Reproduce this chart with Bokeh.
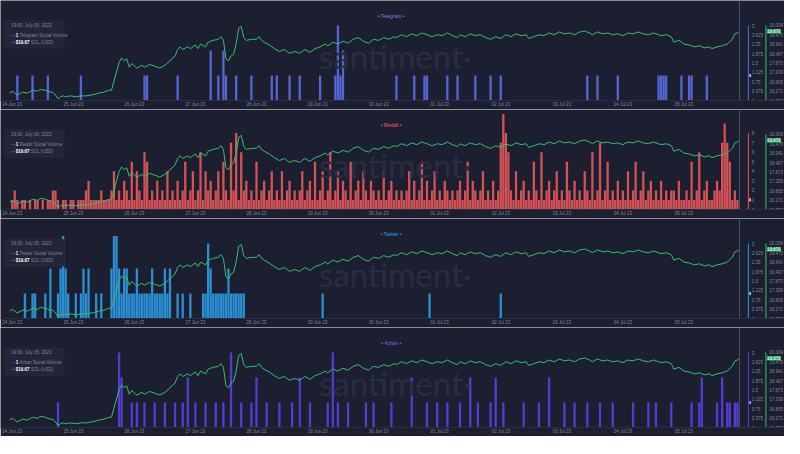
from bokeh.plotting import figure
from bokeh.layouts import column
from bokeh.models import Range1d, FixedTicker, Label, BoxAnnotation, Span
from bokeh.embed import file_html
from bokeh.resources import INLINE

BG = "#1c1f2f"
AXIS_TXT = "#80859c"
PRICE_COLOR = "#35c06f"

# ---- x axis (hours since 24 Jun 2023 00:00) ----
day_ticks = [0, 24, 48, 72, 96, 120, 144, 168, 192, 216, 240, 264]
day_labels = ["24 Jun 23", "25 Jun 23", "26 Jun 23", "27 Jun 23", "28 Jun 23", "29 Jun 23",
              "30 Jun 23", "01 Jul 23", "02 Jul 23", "03 Jul 23", "04 Jul 23", "05 Jul 23"]

# ---- SOL price (USD) ----
price_hours = [-1, 0, 2, 4, 6, 8, 10, 11, 13, 15, 16, 17, 18, 19, 20, 21, 23, 25, 27, 29, 31, 33, 34, 36, 38,
               39, 40, 41, 42, 43, 44, 45, 46, 47, 49, 51, 52, 54, 56, 58, 60, 62, 64, 65, 66, 67, 69, 70, 72,
               73, 74, 76, 77, 79, 81, 82, 83, 84, 85, 86, 87, 88, 89, 90, 91, 92, 94, 96, 97, 98, 99,
               101, 103, 105, 107, 109, 111, 113, 115, 117, 119, 121, 123, 124, 126, 128, 130, 132, 134, 136,
               138, 140, 142, 144, 146, 148, 150, 151, 153, 155, 157, 159, 161, 163, 165, 167, 169, 171, 173,
               175, 176, 178, 180, 182, 184, 186, 188, 190, 192, 194, 196, 198, 200, 202, 203, 205, 207, 209,
               211, 213, 215, 217, 219, 221, 223, 225, 227, 228, 230, 232, 234, 236, 238, 240, 242, 244, 246,
               248, 250, 252, 254, 255, 257, 259,
               260, 262, 264, 266, 268, 270, 272, 274, 275, 277, 279, 281, 283, 284, 285, 286]
price_vals = [16.16, 16.26, 16.05, 16.21, 16.16, 16.32, 16.26, 16.37, 16.32, 16.21,
              16.21, 16.05, 15.84, 15.95, 16.00, 15.95, 16.00, 15.95, 16.00, 16.00,
              16.05, 16.11, 16.16, 16.21, 16.32, 16.32, 16.84, 17.37, 17.90, 18.16,
              18.00, 18.11, 17.63, 17.84, 17.58, 17.74, 17.63, 17.79, 17.69, 17.58,
              17.74, 18.00, 18.27, 18.64, 18.79, 18.64, 18.79, 18.69, 18.90, 18.69,
              18.95, 18.79, 19.06, 19.16, 19.22, 19.37, 19.16, 18.11, 18.00, 18.27,
              18.37, 18.95, 19.85, 19.95, 19.32, 19.16, 19.22, 19.22, 19.37, 19.16,
              19.06,
              18.90, 18.69, 18.53, 18.64, 18.42, 18.53, 18.42, 18.64, 18.48, 18.69,
              18.79, 18.95, 18.85, 19.06, 18.95, 19.11, 19.00, 19.22, 19.32, 19.11,
              19.00, 19.22, 19.16, 19.32, 19.22, 19.37, 19.32, 19.48, 19.37, 19.53,
              19.43, 19.58, 19.48, 19.37, 19.48, 19.43, 19.58, 19.43, 19.32, 19.48,
              19.37, 19.53, 19.43, 19.48, 19.32, 19.22, 19.37, 19.27, 19.48, 19.37,
              19.53, 19.43, 19.48, 19.27, 19.37, 19.48, 19.43, 19.58, 19.48, 19.64,
              19.53, 19.58, 19.48, 19.64, 19.69, 19.58, 19.48, 19.64, 19.53, 19.58,
              19.48, 19.53, 19.43, 19.58, 19.53, 19.64, 19.53, 19.48, 19.58, 19.48,
              19.43, 19.48, 19.37,
              19.06, 19.16, 18.95, 18.90, 18.79, 18.85, 18.74, 18.79, 18.69, 18.79,
              18.85, 18.95, 19.22, 19.53, 19.58, 19.69]

price_ticks = [15.737, 16.271, 16.805, 17.339, 17.873, 18.407, 18.941, 19.475, 20.009]
price_labels = ["15.737", "16.271", "16.805", "17.339", "17.873", "18.407", "18.941", "19.475", "20.009"]

# ---- social volume (hourly) ----
tg_hours = [2, 8, 14, 27, 52, 53, 65, 78, 81, 83, 84, 88, 94, 102, 104, 109, 113, 121, 127, 128, 129, 130,
            151, 158, 162, 163, 171, 175, 182, 188, 192, 226, 230, 238, 254, 255, 256, 257, 263, 266, 267, 273]
tg_vals = [1, 1, 1, 1, 1, 1, 1, 2, 1, 2, 1, 1, 1, 1, 1, 1, 1, 1, 1, 3, 1, 2,
           1, 1, 1, 1, 1, 1, 1, 1, 1, 1, 1, 1, 1, 1, 1, 1, 1, 1, 1, 1]

# Reddit: one value per hour, hour 0 .. 285
rd_vals = [1, 2, 1, 0, 1, 1, 0, 1, 0, 1, 1, 0, 1, 0, 1, 1, 2, 2, 1, 0, 1, 1, 0, 1,
           1, 0, 1, 1, 1, 2, 3, 1, 1, 1, 1, 2, 1, 1, 1, 2, 4, 1, 2, 1, 3, 2, 1, 5,
           1, 4, 2, 1, 6, 5, 1, 2, 1, 3, 1, 2, 1, 4, 1, 2, 1, 3, 1, 2, 5, 1, 2, 4,
           1, 2, 6, 1, 4, 2, 3, 1, 2, 4, 1, 5, 2, 1, 7, 2, 8, 1, 6, 2, 3, 1, 2, 1,
           5, 1, 2, 3, 1, 2, 4, 1, 2, 1, 4, 1, 2, 3, 1, 2, 1, 2, 4, 1, 2, 3, 1, 5,
           1, 2, 4, 1, 2, 6, 1, 2, 4, 1, 3, 2, 1, 5, 1, 2, 3, 1, 4, 2, 1, 3, 2, 1,
           2, 1, 4, 1, 2, 3, 1, 2, 1, 2, 1, 2, 4, 1, 3, 1, 2, 5, 1, 3, 1, 2, 4, 1,
           2, 1, 3, 2, 1, 2, 1, 2, 3, 1, 2, 5, 1, 3, 2, 1, 2, 4, 1, 2, 1, 3, 1, 2,
           7, 10, 8, 6, 2, 1, 4, 1, 2, 3, 1, 2, 1, 5, 2, 1, 6, 1, 2, 3, 1, 2, 4, 1,
           2, 1, 5, 2, 1, 3, 1, 2, 1, 4, 2, 1, 6, 1, 2, 7, 1, 2, 5, 1, 2, 1, 3, 1,
           2, 1, 4, 1, 2, 5, 1, 2, 4, 1, 2, 3, 1, 2, 1, 3, 1, 2, 1, 2, 2, 1, 3, 1,
           1, 2, 1, 5, 1, 2, 6, 1, 2, 3, 1, 1, 2, 3, 2, 7, 9, 7, 5, 1, 2, 1]
rd_hours = list(range(len(rd_vals)))

tw_hours = [5, 8, 9, 13, 15, 18, 19, 20, 21, 22, 25, 27, 28, 29, 30, 33, 35,
            39, 40, 41, 42, 43, 44, 45, 46, 47, 48, 49, 50, 51, 52, 53, 54, 55, 56, 57, 58, 59, 60, 61, 62,
            65, 67, 70, 75, 76, 77, 78, 79, 80, 81, 82, 83, 84, 85, 86, 87, 88, 89, 90, 91, 122, 164, 192]
tw_vals = [1, 1, 1, 1, 2, 1, 2, 3.3, 2, 1, 1, 1, 2, 1, 2, 1, 1,
           2, 3.3, 3.3, 2, 1, 2, 2, 1, 1, 1, 2, 1, 1, 1, 1, 1, 2, 1, 1, 1, 1, 2, 1, 2,
           1, 1, 1, 1, 1, 3, 2, 1, 1, 1, 1, 1, 1, 2, 1, 1, 1, 1, 1, 1, 1, 1, 1]

ch_hours = [18, 42, 43, 47, 49, 52, 56, 60, 64, 67, 69, 72, 76, 80, 83, 86, 90, 94, 96, 100, 105, 110, 113,
            117, 124, 126, 128, 132, 139, 142, 149, 157, 163, 167, 171, 176, 180, 183, 188, 190, 193, 201,
            207, 211, 217, 221, 226, 231, 236, 244, 250, 253, 259, 267, 270, 271, 277, 279, 281, 282, 284, 285]
ch_vals = [1, 3, 2, 1, 1, 1, 1, 1, 1, 1, 2, 1, 1, 1, 1, 3, 1, 1, 2, 1, 1, 1, 2,
           1, 1, 3, 1, 1, 1, 1, 1, 2, 1, 1, 1, 1, 2, 1, 1, 2, 1, 1,
           1, 2, 1, 1, 1, 1, 1, 1, 1, 1, 1, 1, 1, 2, 1, 2, 1, 1, 1, 1]

vol3_ticks = [0, 0.375, 0.75, 1.125, 1.5, 1.875, 2.25, 2.625, 3]
vol3_labels = ["0", "0.375", "0.75", "1.125", "1.5", "1.875", "2.25", "2.625", "3"]
vol8_ticks = [0, 1, 2, 3, 4, 5, 6, 7, 8]
vol8_labels = ["0", "1", "2", "3", "4", "5", "6", "7", "8"]

# layout constants (hours / price units)
X_START, X_END = -4.6, 303.5
P_START, P_END = 15.737, 21.43
HOVER_H = 285.8
VAXIS_H, VLAB_H = 289.3, 290.6
PAXIS_H, PLAB_H = 296.2, 297.5


def panel(name, color, tcolor, hours, vals, vtop, vticks, vlabels, cur):
    p = figure(width=784, height=109, output_backend="svg", toolbar_location=None,
               x_range=Range1d(X_START, X_END), y_range=Range1d(0, vtop),
               y_axis_location=None, background_fill_color=BG, border_fill_color=BG,
               outline_line_color=None, min_border_left=0, min_border_top=0,
               min_border_bottom=0, min_border_right=0)
    p.extra_y_ranges = {"price": Range1d(P_START, P_END)}
    p.xgrid.visible = False
    p.ygrid.visible = False

    xa = p.xaxis[0]
    xa.ticker = FixedTicker(ticks=day_ticks)
    xa.major_label_overrides = {float(t): s for t, s in zip(day_ticks, day_labels)}
    xa.major_label_text_font_size = "4.5px"
    xa.major_label_text_color = AXIS_TXT
    xa.major_label_standoff = 1
    xa.major_tick_out = 0
    xa.major_tick_in = 0
    xa.major_tick_line_color = None
    xa.minor_tick_line_color = None
    xa.axis_line_color = "#2a2e42"

    p.add_layout(Label(x=150.5, y=18.27, y_range_name="price", text="santiment·",
                       text_align="center", text_baseline="middle", text_font_size="33px",
                       text_font="Lato", text_color="#292d41"))

    p.vbar(x=hours, top=vals, width=0.9, bottom=0, fill_color=color, line_color=None, fill_alpha=0.9)
    p.line(price_hours, price_vals, y_range_name="price", line_color=PRICE_COLOR, line_width=1)

    p.add_layout(Span(location=HOVER_H, dimension="height", line_color="#4a4e64", line_width=1))

    # right-hand axes: social volume and price
    p.segment(x0=[VAXIS_H], y0=[0], x1=[VAXIS_H], y1=[vticks[-1]], line_color=color, line_width=1)
    p.text(x=[VLAB_H] * len(vticks), y=vticks, text=vlabels, text_font_size="4.5px",
           text_baseline="middle", text_color=AXIS_TXT)
    p.segment(x0=[PAXIS_H], y0=[price_ticks[0]], x1=[PAXIS_H], y1=[price_ticks[-1]],
              y_range_name="price", line_color=PRICE_COLOR, line_width=1)
    p.text(x=[PLAB_H] * len(price_ticks), y=price_ticks, text=price_labels, y_range_name="price",
           text_font_size="4.5px", text_baseline="middle", text_color=AXIS_TXT)

    p.add_layout(Label(x=149.5, y=20.55, y_range_name="price", text="•  " + name + "  •",
                       text_align="center", text_baseline="middle", text_font_size="5px",
                       text_color=tcolor))

    # legend box
    p.add_layout(BoxAnnotation(left=-3.0, right=20.5, top=20.27, bottom=18.69, y_range_name="price",
                               fill_color="#222638", fill_alpha=1, line_color="#2e3247",
                               line_width=1, border_radius=2))
    lab = dict(y_range_name="price", text_baseline="middle", text_font_size="4.5px")
    p.add_layout(Label(x=-0.5, y=19.98, text="19:00, July 05, 2023", text_color=AXIS_TXT, **lab))
    p.add_layout(Label(x=-0.5, y=19.45, text="—", text_color=color, **lab))
    p.add_layout(Label(x=1.4, y=19.45, text=str(cur), text_color="#ffffff", text_font_style="bold", **lab))
    p.add_layout(Label(x=2.9, y=19.45, text=name + " Social Volume", text_color=AXIS_TXT, **lab))
    p.add_layout(Label(x=-0.5, y=19.03, text="—", text_color=PRICE_COLOR, **lab))
    p.add_layout(Label(x=1.4, y=19.03, text="$19.67", text_color="#ffffff", text_font_style="bold", **lab))
    p.add_layout(Label(x=7.3, y=19.03, text="SOL (USD)", text_color=AXIS_TXT, **lab))

    # current value markers on the axes
    p.add_layout(Label(x=VAXIS_H + 0.2, y=cur, text=str(cur), text_baseline="middle", text_font_size="4px",
                       text_color="#ffffff", background_fill_color=color))
    p.add_layout(Label(x=PAXIS_H + 0.4, y=19.67, y_range_name="price", text="19.670",
                       text_baseline="middle", text_font_size="4.5px", text_color="#ffffff",
                       background_fill_color="#27b863"))
    return p


f1 = panel("Telegram", "#5a6ee6", "#6f82f2", tg_hours, tg_vals, 4.0, vol3_ticks, vol3_labels, 1)
f2 = panel("Reddit", "#e8585a", "#ff5a5a", rd_hours, rd_vals, 10.47, vol8_ticks, vol8_labels, 1)
f3 = panel("Twitter", "#2e9be6", "#3aa4ef", tw_hours, tw_vals, 4.0, vol3_ticks, vol3_labels, 1)
f4 = panel("4chan", "#5b3ee4", "#7f63f2", ch_hours, ch_vals, 4.0, vol3_ticks, vol3_labels, 1)

layout = column(f1, f2, f3, f4)
open("out.html", "w").write(file_html(layout, INLINE))
